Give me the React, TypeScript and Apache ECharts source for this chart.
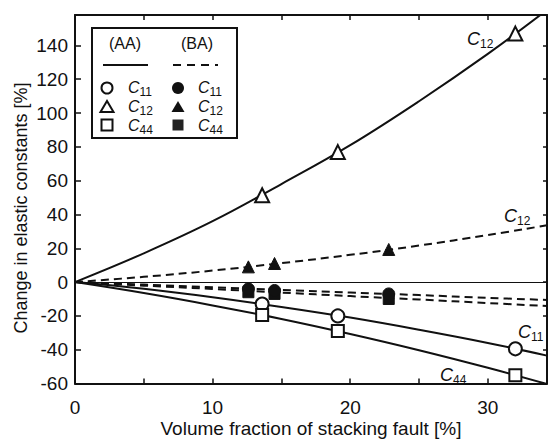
import React, { useEffect, useRef } from "react";
import * as echarts from "echarts";

// Measured points (volume fraction %, change %)
const aaX = [13.6, 19.1, 32.0];
const aaC11 = [-13, -20, -39.5];
const aaC12 = [51.4, 76.9, 147];
const aaC44 = [-19.5, -28.9, -55.1];

const baX = [12.6, 14.5, 22.8];
const baC11 = [-4, -5, -7];
const baC12 = [9, 11, 19.3];
const baC44 = [-6, -7, -10];

// Fit curves
const fitX = [0, 5, 10, 15, 20, 25, 30, 34.3];
const aaC12Fit = [0, 17, 36, 58, 81, 107, 135, 161];
const aaC11Fit = [0, -4, -9, -14.7, -21, -28.2, -36, -43.5];
const aaC44Fit = [0, -6.5, -13.8, -21.8, -30.7, -40.3, -50.7, -60.3];
const baC12Fit = [0, 3.1, 6.8, 11.2, 16.1, 21.6, 27.8, 33.6];
const baC11Fit = [0, -1.5, -3.1, -4.6, -6.2, -7.7, -9.3, -10.6];
const baC44Fit = [0, -2.1, -4.1, -6.2, -8.3, -10.3, -12.4, -14.2];

const xTicks = [0, 10, 20, 30];
const yTicks = [-60, -40, -20, 0, 20, 40, 60, 80, 100, 120, 140];

const FONT = "Liberation Sans, Arial, sans-serif";
const INK = "#111";

const pairs = (xs: number[], ys: number[]) => xs.map((x, i) => [x, ys[i]]);

function cLabel(sub: string, x: number, y: number, z = 11, size = 18) {
  return {
    type: "group",
    z,
    children: [
      {
        type: "text",
        x,
        y,
        z,
        style: {
          text: "C",
          fontStyle: "italic",
          fontSize: size,
          lineHeight: size - 2,
          fontFamily: FONT,
          fill: INK,
          align: "left",
          verticalAlign: "middle",
        },
      },
      {
        type: "text",
        x: x + size * 0.72,
        y: y + 5,
        z,
        style: {
          text: sub,
          fontSize: 12,
          lineHeight: 12,
          fontFamily: FONT,
          fill: INK,
          align: "left",
          verticalAlign: "middle",
        },
      },
    ],
  };
}

export default function App() {
  const ref = useRef<HTMLDivElement>(null);
  useEffect(() => {
    if (!ref.current) return;
    const chart = echarts.init(ref.current, undefined, { renderer: "svg" });

    const lineSeries = (data: number[], dashed: boolean) => ({
      type: "line",
      data: pairs(fitX, data),
      smooth: 0.4,
      showSymbol: false,
      symbol: "none",
      lineStyle: { color: INK, width: 2, type: dashed ? [8, 5] : "solid" },
      silent: true,
      z: 2,
    });
    const scatterSeries = (xs: number[], ys: number[], symbol: string, size: number, filled: boolean) => ({
      type: "scatter",
      data: pairs(xs, ys),
      symbol,
      symbolSize: size,
      itemStyle: filled
        ? { color: INK, borderColor: INK, borderWidth: 1, opacity: 1 }
        : { color: "#fff", borderColor: INK, borderWidth: 2, opacity: 1 },
      z: 5,
      silent: true,
    });

    const tickFmtX = (v: number) => (xTicks.includes(v) ? String(v) : "");
    const tickFmtY = (v: number) => (yTicks.includes(v) ? String(v) : "");

    const left = 75, right = 547, top = 15, bottom = 383.5;

    const option: any = {
      animation: false,
      backgroundColor: "#fff",
      textStyle: { fontFamily: FONT },
      grid: { left, right: 549 - right, top, bottom: 440 - bottom, containLabel: false },
      xAxis: [
        {
          type: "value",
          position: "bottom",
          min: 0,
          max: 34.3,
          interval: 5,
          axisLine: { show: true, onZero: false, lineStyle: { color: INK, width: 2 } },
          axisTick: { show: true, inside: true, length: 5, lineStyle: { color: INK, width: 1.5 } },
          axisLabel: { formatter: tickFmtX, fontSize: 19, color: INK, fontFamily: FONT, margin: 14, showMaxLabel: false },
          splitLine: { show: false },
        },
        {
          type: "value",
          position: "top",
          min: 0,
          max: 34.3,
          interval: 5,
          axisLine: { show: true, onZero: false, lineStyle: { color: INK, width: 2 } },
          axisTick: { show: true, inside: true, length: 5, lineStyle: { color: INK, width: 1.5 } },
          axisLabel: { show: false },
          splitLine: { show: false },
        },
      ],
      yAxis: [
        {
          type: "value",
          position: "left",
          min: -60,
          max: 158,
          interval: 20,
          axisLine: { show: true, onZero: false, lineStyle: { color: INK, width: 2 } },
          axisTick: { show: true, inside: true, length: 6, lineStyle: { color: INK, width: 1.5 } },
          axisLabel: { formatter: tickFmtY, fontSize: 19, color: INK, fontFamily: FONT, margin: 7, showMaxLabel: false },
          splitLine: { show: false },
        },
        {
          type: "value",
          position: "right",
          min: -60,
          max: 158,
          interval: 20,
          axisLine: { show: true, onZero: false, lineStyle: { color: INK, width: 2 } },
          axisTick: { show: true, inside: true, length: 4, lineStyle: { color: INK, width: 1.5 } },
          axisLabel: { show: false },
          splitLine: { show: false },
        },
      ],
      series: [
        {
          ...lineSeries(aaC12Fit, false),
          markLine: {
            silent: true,
            symbol: ["none", "none"],
            label: { show: false },
            lineStyle: { color: INK, width: 1, type: "solid" },
            data: [{ yAxis: 0 }],
          },
        },
        lineSeries(aaC11Fit, false),
        lineSeries(aaC44Fit, false),
        lineSeries(baC12Fit, true),
        lineSeries(baC11Fit, true),
        lineSeries(baC44Fit, true),
        scatterSeries(aaX, aaC12, "triangle", 14, false),
        scatterSeries(aaX, aaC11, "circle", 13, false),
        scatterSeries(aaX, aaC44, "rect", 12, false),
        scatterSeries(baX, baC12, "triangle", 12, true),
        scatterSeries(baX, baC44, "rect", 11, true),
        scatterSeries(baX, baC11, "circle", 12, true),
      ],
      graphic: [
        // axis titles
        {
          type: "text",
          x: 311,
          y: 428,
          style: {
            text: "Volume fraction of stacking fault [%]",
            fontSize: 19,
            fontFamily: FONT,
            fill: INK,
            align: "center",
            verticalAlign: "middle",
          },
        },
        {
          type: "text",
          x: 21,
          y: 208,
          rotation: Math.PI / 2,
          style: {
            text: "Change in elastic constants [%]",
            fontSize: 18,
            fontFamily: FONT,
            fill: INK,
            align: "center",
            verticalAlign: "middle",
          },
        },
        // legend box
        {
          type: "rect",
          shape: { x: 92, y: 28, width: 145, height: 110 },
          style: { fill: "#fff", stroke: INK, lineWidth: 2 },
          z: 10,
        },
        {
          type: "text", x: 125, y: 43, z: 11,
          style: { text: "(AA)", fontSize: 16, fontFamily: FONT, fill: INK, align: "center", verticalAlign: "middle" },
        },
        {
          type: "text", x: 197, y: 43, z: 11,
          style: { text: "(BA)", fontSize: 16, fontFamily: FONT, fill: INK, align: "center", verticalAlign: "middle" },
        },
        {
          type: "line", z: 11,
          shape: { x1: 103, y1: 65, x2: 148, y2: 65 },
          style: { stroke: INK, lineWidth: 2 },
        },
        {
          type: "line", z: 11,
          shape: { x1: 173, y1: 65, x2: 218, y2: 65 },
          style: { stroke: INK, lineWidth: 2, lineDash: [8, 6] },
        },
        // AA markers
        { type: "circle", z: 11, shape: { cx: 107, cy: 88, r: 5.5 }, style: { fill: "#fff", stroke: INK, lineWidth: 2 } },
        { type: "polygon", z: 11, shape: { points: [[100.5, 112], [113.5, 112], [107, 101]] }, style: { fill: "#fff", stroke: INK, lineWidth: 2 } },
        { type: "rect", z: 11, shape: { x: 101.5, y: 119.5, width: 11, height: 11 }, style: { fill: "#fff", stroke: INK, lineWidth: 2 } },
        // BA markers
        { type: "circle", z: 11, shape: { cx: 178, cy: 88, r: 6 }, style: { fill: INK } },
        { type: "polygon", z: 11, shape: { points: [[171.5, 112], [184.5, 112], [178, 101]] }, style: { fill: INK } },
        { type: "rect", z: 11, shape: { x: 172.5, y: 119.5, width: 11, height: 11 }, style: { fill: "#222" } },
        cLabel("11", 128, 87, 11, 16),
        cLabel("12", 128, 106, 11, 16),
        cLabel("44", 128, 125, 11, 16),
        cLabel("11", 198, 87, 11, 16),
        cLabel("12", 198, 106, 11, 16),
        cLabel("44", 198, 125, 11, 16),
        // curve labels
        cLabel("12", 467, 39, 3),
        cLabel("12", 504, 216, 3),
        cLabel("11", 518, 332, 3),
        cLabel("44", 440, 375, 3),
      ],
    };
    chart.setOption(option);
    return () => chart.dispose();
  }, []);

  return (
    <div
      ref={ref}
      style={{ position: "fixed", left: 0, top: 0, width: 549, height: 440, background: "#fff" }}
    />
  );
}
